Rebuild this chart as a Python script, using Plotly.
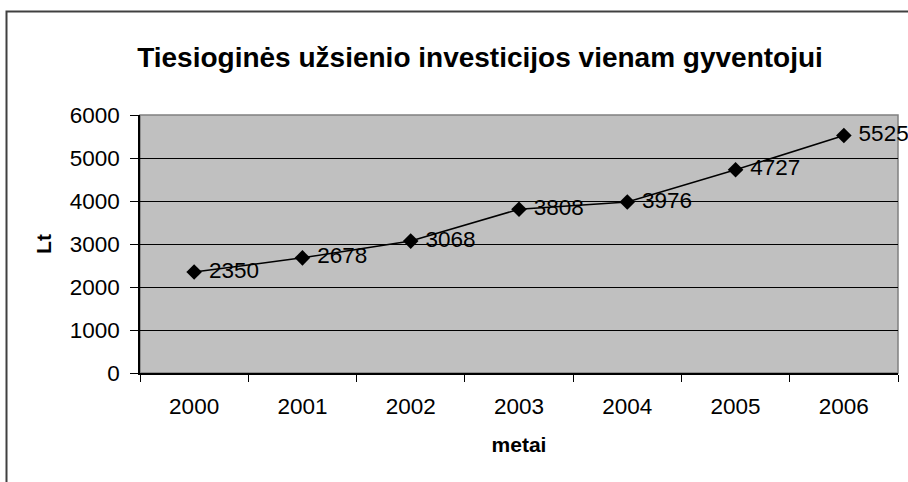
import plotly.graph_objects as go

metai = ["2000", "2001", "2002", "2003", "2004", "2005", "2006"]
investicijos = [2350, 2678, 3068, 3808, 3976, 4727, 5525]

SRIFTAS = "Arial, Liberation Sans, sans-serif"

fig = go.Figure(
    go.Scatter(
        x=metai,
        y=investicijos,
        mode="lines+markers+text",
        texttemplate="\u00a0%{y}",
        textposition="middle right",
        textfont=dict(size=22.5, color="black"),
        line=dict(color="black", width=1.5),
        marker=dict(symbol="diamond", size=12, color="black"),
        cliponaxis=False,
        showlegend=False,
    )
)

fig.update_layout(
    width=908,
    height=482,
    paper_bgcolor="white",
    plot_bgcolor="#C0C0C0",
    font=dict(family=SRIFTAS, size=22.5, color="black"),
    margin=dict(l=140, r=10, t=115, b=109),
    title=dict(
        text="<b>Tiesioginės užsienio investicijos vienam gyventojui</b>",
        font=dict(size=28),
        xref="paper",
        x=(480 - 140) / 758,
        xanchor="center",
        y=1 - 57 / 482,
        yanchor="middle",
    ),
    shapes=[
        # plot area frame (gray, Excel style)
        dict(type="rect", xref="paper", yref="paper", x0=0, x1=1, y0=0, y1=1,
             line=dict(color="#808080", width=1.5), layer="below"),
        # chart border
        dict(type="rect", xref="paper", yref="paper",
             x0=(6.5 - 140) / 758, x1=1.05, y0=-0.5, y1=1 + (115 - 11.5) / 258,
             line=dict(color="#404040", width=2)),
    ],
)

fig.update_xaxes(
    type="category",
    range=[-0.5, 6.5],
    tickson="boundaries",
    ticks="outside",
    ticklen=7,
    tickcolor="black",
    showline=True,
    linecolor="black",
    linewidth=1.5,
    showgrid=False,
    tickfont=dict(size=22.5),
    ticklabelstandoff=12,
    title=dict(text="<b>metai</b>", font=dict(size=21), standoff=20),
)

fig.update_yaxes(
    range=[0, 6000],
    dtick=1000,
    ticks="outside",
    ticklen=8,
    tickcolor="black",
    showline=True,
    linecolor="black",
    linewidth=1.5,
    gridcolor="black",
    gridwidth=1,
    zeroline=False,
    tickfont=dict(size=22.5),
    ticklabelstandoff=6,
    title=dict(text="<b>Lt</b>", font=dict(size=21), standoff=12),
)

# the page body has an 8px default margin; drop it so the figure fills the window
fig.write_html(
    "out.html",
    config={"displayModeBar": False},
    post_script="document.body.style.margin='0';",
)
